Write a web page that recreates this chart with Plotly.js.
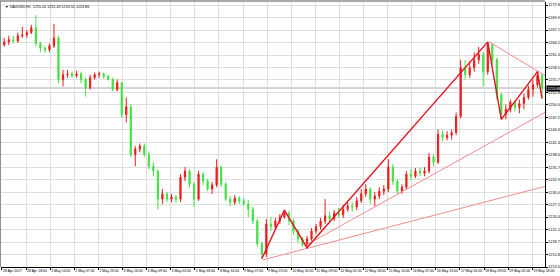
<!DOCTYPE html>
<html>
<head>
<meta charset="utf-8">
<script src="https://cdn.plot.ly/plotly-3.0.1.min.js"></script>
<style>
  html, body { margin: 0; padding: 0; background: #ffffff; }
  #chart { width: 560px; height: 276px; }
</style>
</head>
<body>
<div id="chart"></div>
<script>
// ---- data (XAUUSD, 3-hour candles) ----
const symbolHeader = "\u25BC XAUUSD,H1  1255.20 1255.43 1253.55 1253.86";
const lastPrice = 1253.86;
const hoursPerCandle = 3;

const open = [1263.7,1264.4,1264.9,1264.6,1265.8,1266.0,1266.5,1267.6,1264.0,1263.0,
1262.6,1263.5,1265.3,1255.8,1256.9,1257.1,1256.7,1257.1,1255.8,1254.0,
1256.2,1256.9,1257.1,1256.5,1255.8,1253.5,1255.1,1247.8,1249.6,1238.7,
1239.9,1240.6,1238.7,1236.0,1234.9,1228.5,1229.7,1228.5,1229.0,1228.5,
1233.5,1234.9,1231.9,1228.5,1234.2,1232.6,1230.8,1231.7,1235.8,1231.9,
1228.5,1227.8,1228.7,1228.1,1227.4,1226.2,1223.5,1218.3,1216.0,1222.8,
1222.2,1223.5,1224.4,1225.3,1223.5,1221.2,1219.4,1218.1,1219.4,1221.2,
1222.2,1223.5,1224.7,1224.0,1225.3,1224.9,1226.2,1226.9,1226.7,1228.1,
1229.7,1230.8,1228.5,1229.2,1230.3,1230.8,1235.8,1232.6,1230.3,1231.2,
1234.2,1233.7,1234.9,1234.4,1234.9,1238.1,1236.9,1243.3,1242.6,1243.1,
1243.7,1247.4,1258.5,1256.9,1258.5,1260.3,1261.5,1257.6,1263.7,1260.3,
1252.4,1247.8,1249.0,1250.6,1249.4,1250.3,1251.7,1253.5,1254.6,1256.7];

const high = [1265.3,1265.8,1265.8,1266.5,1267.8,1267.1,1268.3,1270.5,1264.4,1263.5,
1264.0,1268.5,1265.8,1258.0,1258.0,1257.6,1257.8,1257.6,1256.2,1256.9,
1257.4,1257.6,1257.4,1256.9,1256.2,1255.8,1255.3,1251.7,1250.1,1240.6,
1241.2,1241.2,1239.4,1236.9,1235.3,1230.8,1230.1,1229.7,1229.4,1234.2,
1235.8,1235.3,1232.4,1234.9,1234.7,1233.1,1232.4,1237.6,1236.2,1232.4,
1229.2,1229.4,1229.2,1228.7,1228.3,1226.7,1224.0,1218.7,1224.0,1224.4,
1224.2,1225.1,1226.0,1225.8,1224.0,1221.7,1219.9,1220.1,1221.9,1222.8,
1224.2,1228.5,1225.6,1226.0,1226.5,1227.2,1227.8,1227.8,1229.0,1230.8,
1231.9,1231.2,1230.1,1231.2,1231.7,1237.6,1236.5,1233.1,1231.9,1234.9,
1235.3,1235.6,1235.6,1235.8,1239.0,1238.7,1244.4,1244.2,1244.0,1244.4,
1248.3,1260.3,1260.3,1259.9,1261.9,1263.3,1262.1,1264.4,1264.0,1260.8,
1252.8,1250.1,1251.2,1251.0,1251.2,1252.6,1254.4,1255.8,1257.6,1257.1];

const low = [1263.3,1263.7,1264.0,1264.2,1265.3,1265.3,1266.2,1263.3,1262.1,1261.9,
1262.1,1263.0,1254.9,1254.2,1256.2,1256.2,1256.2,1254.9,1251.9,1253.5,
1255.8,1256.2,1256.0,1255.6,1253.1,1253.1,1247.1,1246.0,1238.1,1236.0,
1239.2,1238.1,1235.3,1233.7,1226.2,1227.4,1227.8,1227.8,1227.6,1227.8,
1232.6,1231.2,1226.7,1228.1,1231.7,1230.3,1229.7,1231.2,1231.2,1228.1,
1226.9,1227.2,1227.4,1226.9,1224.4,1222.8,1217.6,1214.9,1215.3,1221.2,
1221.5,1222.8,1224.0,1222.6,1220.3,1218.5,1217.6,1217.4,1219.0,1220.6,
1221.5,1222.8,1223.1,1223.5,1224.2,1224.2,1225.6,1225.6,1226.0,1227.6,
1229.0,1227.4,1226.9,1228.5,1229.4,1230.1,1231.7,1229.7,1229.7,1230.6,
1232.8,1233.3,1233.7,1233.7,1234.4,1236.0,1236.5,1241.7,1241.9,1242.1,
1243.1,1246.9,1255.8,1256.2,1257.6,1259.4,1254.2,1256.9,1259.4,1251.2,
1246.7,1246.7,1248.3,1248.5,1248.1,1249.0,1251.2,1251.9,1254.0,1251.5];

const close = [1264.4,1264.9,1264.6,1265.8,1266.0,1266.5,1267.6,1264.0,1263.0,1262.6,
1263.5,1265.3,1255.8,1256.9,1257.1,1256.7,1257.1,1255.8,1254.0,1256.2,
1256.9,1257.1,1256.5,1255.8,1253.5,1255.1,1247.8,1249.6,1238.7,1239.9,
1240.6,1238.7,1236.0,1234.9,1228.5,1229.7,1228.5,1229.0,1228.5,1233.5,
1234.9,1231.9,1228.5,1234.2,1232.6,1230.8,1231.7,1235.8,1231.9,1228.5,
1227.8,1228.7,1228.1,1227.4,1226.2,1223.5,1218.3,1216.0,1222.8,1222.2,
1223.5,1224.4,1225.3,1223.5,1221.2,1219.4,1218.1,1219.4,1221.2,1222.2,
1223.5,1224.7,1224.0,1225.3,1224.9,1226.2,1226.9,1226.7,1228.1,1229.7,
1230.8,1228.5,1229.2,1230.3,1230.8,1235.8,1232.6,1230.3,1231.2,1234.2,
1233.7,1234.9,1234.4,1234.9,1238.1,1236.9,1243.3,1242.6,1243.1,1243.7,
1247.4,1258.5,1256.9,1258.5,1260.3,1261.5,1257.6,1263.7,1260.3,1252.4,
1247.8,1249.0,1250.6,1249.4,1250.3,1251.7,1253.5,1254.6,1256.7,1253.86];

// x tick labels (one every 16 hourly bars)
const xTickHours = [0,16,32,48,64,80,96,112,128,144,160,176,192,208,224,240,256,272,288,304,320,336,352];
const xTickLabels = ["28 Apr 2017","28 Apr 18:00","1 May 14:00","2 May 07:00","2 May 23:00","3 May 16:00",
  "4 May 09:00","5 May 02:00","5 May 18:00","8 May 14:00","9 May 07:00","9 May 23:00","10 May 16:00",
  "11 May 09:00","12 May 02:00","12 May 18:00","15 May 14:00","16 May 07:00","16 May 23:00",
  "17 May 16:00","18 May 09:00","19 May 02:00","19 May 18:00"];

// price scale labels
const yTickVals = [1272.8,1269.9,1267.1,1264.2,1261.4,1258.5,1255.7,1252.8,1250.0,1247.2,1244.3,
  1241.4,1238.6,1235.7,1232.9,1230.0,1227.2,1224.4,1221.5,1218.7,1215.8,1213.0];
const yTickLabels = ["1272.8","1269.9","1267.1","1264.2","1261.4","1258.5","1255.7","1252.8","1250.0",
  "1247.2","1244.3","1241.4","1238.6","1235.7","1232.9","1230.0","1227.2","1224.4","1221.5","1218.7",
  "1215.8","1213.0"];

// zigzag (hour index, price)
const zigzagHour  = [172.5, 187.5, 202.5, 322.5, 331.5, 355.5, 358.5];
const zigzagPrice = [1214.9, 1226.0, 1217.4, 1264.4, 1246.7, 1257.6, 1251.5];

// thin trend lines: start/end (hour index, price)
const trendStartHour  = [173.0, 200.8, 323.4];
const trendStartPrice = [1214.6, 1217.8, 1264.4];
const trendEndHour    = [360.5, 360.5, 360.5];
const trendEndPrice   = [1231.4, 1248.3, 1256.7];

// ---- build ----
const candleHour = open.map((_, i) => i * hoursPerCandle + hoursPerCandle / 2);

const upColor = '#ee1c1c';
const downColor = '#44e044';

const traces = [];

trendStartHour.forEach((h, k) => {
  traces.push({
    type: 'scatter', mode: 'lines',
    x: [h, trendEndHour[k]], y: [trendStartPrice[k], trendEndPrice[k]],
    line: { color: '#f08c8c', width: 1 },
    hoverinfo: 'skip', showlegend: false
  });
});

traces.push({
  type: 'candlestick',
  x: candleHour, open: open, high: high, low: low, close: close,
  increasing: { line: { color: upColor, width: 1 }, fillcolor: upColor },
  decreasing: { line: { color: downColor, width: 1 }, fillcolor: downColor },
  whiskerwidth: 0,
  showlegend: false, hoverinfo: 'skip'
});

traces.push({
  type: 'scatter', mode: 'lines',
  x: zigzagHour, y: zigzagPrice,
  line: { color: '#e0141e', width: 1.4 },
  hoverinfo: 'skip', showlegend: false
});

const fontFam = '"Liberation Sans", Arial, sans-serif';

const layout = {
  width: 560, height: 276,
  margin: { l: 1, r: 15, t: 2, b: 9, pad: 0 },
  paper_bgcolor: '#ffffff', plot_bgcolor: '#ffffff',
  showlegend: false,
  boxgap: 0.62,
  font: { family: fontFam, color: '#000000', size: 4 },
  xaxis: {
    type: 'linear',
    range: [-0.66, 360.5],
    rangeslider: { visible: false },
    tickmode: 'array', tickvals: xTickHours, ticktext: xTickLabels,
    tickangle: 0,
    ticklabelposition: 'outside right',
    ticklabelstandoff: 0,
    ticks: 'outside', ticklen: 2, tickwidth: 1, tickcolor: '#000000',
    tickfont: { family: fontFam, size: 3.5, color: '#000000' },
    showgrid: true, gridcolor: '#dedede', gridwidth: 1,
    showline: true, linecolor: '#000000', linewidth: 1,
    zeroline: false, fixedrange: true
  },
  yaxis: {
    side: 'right',
    range: [1213.0, 1273.5],
    tickmode: 'array', tickvals: yTickVals, ticktext: yTickLabels,
    tickangle: 0,
    ticks: 'outside', ticklen: 1.5, tickwidth: 1, tickcolor: '#000000',
    tickfont: { family: fontFam, size: 3.8, color: '#000000' },
    showgrid: true, gridcolor: '#dedede', gridwidth: 1,
    showline: true, linecolor: '#000000', linewidth: 1,
    zeroline: false, fixedrange: true
  },
  shapes: [
    { type: 'line', xref: 'paper', yref: 'y', x0: 0, x1: 1, y0: lastPrice, y1: lastPrice,
      line: { color: '#a8a8a8', width: 1 }, layer: 'below' },
    { type: 'line', xref: 'paper', yref: 'paper', x0: -0.002, x1: 1, y0: 1.004, y1: 1.004,
      line: { color: '#8a8a8a', width: 1.5 } },
    { type: 'line', xref: 'paper', yref: 'paper', x0: -0.001, x1: -0.001, y0: 0, y1: 1.004,
      line: { color: '#8a8a8a', width: 1 } }
  ],
  annotations: [
    { xref: 'paper', yref: 'paper', x: 0, y: 1, xanchor: 'left', yanchor: 'top',
      xshift: 2, yshift: -1, showarrow: false, text: symbolHeader,
      font: { family: fontFam, size: 3.7, color: '#000000' } },
    { xref: 'paper', yref: 'y', x: 1, y: lastPrice, xanchor: 'left', yanchor: 'middle',
      xshift: 1, showarrow: false, text: lastPrice.toFixed(2),
      bgcolor: '#000000', borderpad: 0.5,
      font: { family: fontFam, size: 3.6, color: '#ffffff' } }
  ]
};

Plotly.newPlot('chart', traces, layout, { staticPlot: true, displayModeBar: false });
</script>
</body>
</html>
